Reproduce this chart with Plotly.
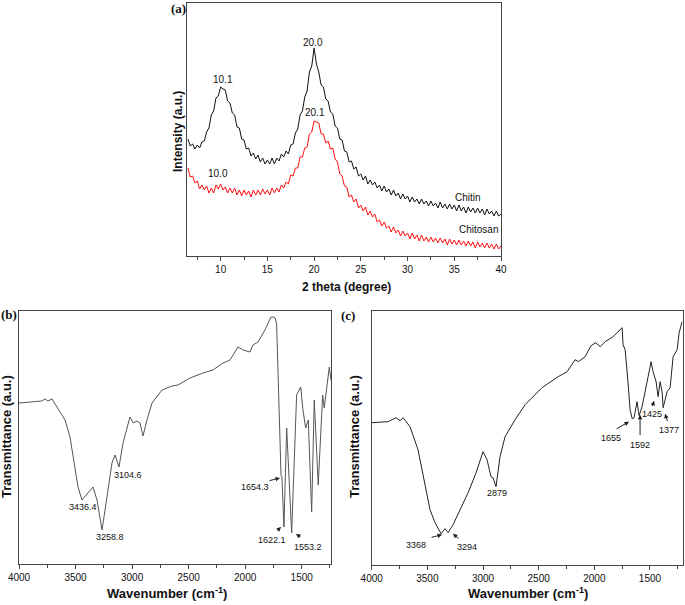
import plotly.graph_objects as go

# ---------------- (a) XRD data ----------------
theta_step = 0.25
theta_start = 6.5
chitin_int = [117,110,112,107,111,108,114,115,124,128,141,145,158,160,169,167,166,155,153,143,
              141,129,128,117,116,107,108,100,103,97,101,94,98,92,96,92,98,92,98,95,
              102,99,105,102,111,112,123,127,141,145,159,165,184,190,208,192,184,171,169,157,
              155,144,142,130,128,117,116,105,104,94,95,87,89,80,82,76,80,72,76,71,
              74,68,71,65,70,64,67,61,66,60,63,57,62,57,60,54,59,54,57,52,
              57,52,55,50,55,50,53,48,54,48,52,47,52,47,51,45,51,45,49,43,
              49,44,48,43,48,43,47,41,47,42,45,40,45,40,42]
chitosan_int = [88,79,80,73,75,67,71,66,70,63,68,63,71,67,72,66,69,63,68,63,
                68,61,66,60,66,61,65,59,66,61,66,61,67,62,66,61,68,63,68,64,
                71,68,74,72,81,80,88,88,99,99,108,109,122,124,135,134,133,122,122,113,
                115,107,108,97,94,82,80,70,69,59,61,54,57,48,51,45,49,41,45,39,
                42,34,36,30,34,28,30,24,29,23,26,20,25,20,23,17,23,17,21,15,
                21,15,19,14,19,14,18,13,18,13,17,11,17,12,16,11,16,11,15,10,
                15,10,14,8,14,9,13,8,13,8,12,7,12,7,10]
theta = [theta_start + theta_step * i for i in range(len(chitin_int))]

xrd_labels = ["10.1", "20.0", "20.1", "10.0", "Chitin", "Chitosan"]
xrd_label_x = [10.2, 19.9, 20.1, 9.7, 36.5, 37.6]
xrd_label_y = [176, 213, 143, 82, 58, 26]

# ---------------- (b) FTIR chitin ----------------
wn_b = [4000, 3850, 3800, 3770, 3745, 3708, 3593, 3549, 3505, 3478, 3443, 3400, 3346, 3310, 3266,
        3222, 3178, 3151, 3116, 3080, 3019, 2990, 2957, 2930, 2904, 2868, 2824, 2735, 2647, 2594,
        2488, 2373, 2285, 2196, 2134, 2064, 2019, 1958, 1931, 1887, 1825, 1772, 1754, 1735, 1722,
        1683, 1675, 1657, 1633, 1589, 1545, 1509, 1489, 1465, 1442, 1412, 1389, 1354, 1315, 1301,
        1280, 1256, 1241]
tr_b = [161, 162, 163, 165, 163, 165, 144, 127, 97, 77, 64, 70, 77, 64, 34,
        67, 101, 109, 97, 121, 147, 141, 143, 141, 128, 144, 161, 174, 178, 179,
        186, 191, 194, 201, 204, 217, 214, 212, 219, 222, 234, 247, 247, 246, 240,
        89, 87, 37, 136, 31, 169, 177, 154, 136, 144, 52, 164, 79, 169, 156,
        177, 197, 184]
b_labels = ["3436.4", "3258.8", "3104.6", "1654.3", "1622.1", "1553.2"]
b_label_x = [3434, 3195, 3036, 1913, 1763, 1445]
b_label_y = [57, 27, 89, 77, 24, 17]
b_arrow_tail_x = [1798, 1728, 1498]
b_arrow_tail_y = [83, 32, 26]
b_arrow_head_x = [1692, 1683, 1551]
b_arrow_head_y = [86, 37, 30]

# ---------------- (c) FTIR chitosan ----------------
wn_c = [4000, 3854, 3782, 3746, 3718, 3656, 3584, 3521, 3476, 3431, 3377, 3341, 3314, 3269, 3206,
        3134, 3062, 3000, 2964, 2928, 2910, 2883, 2847, 2802, 2712, 2622, 2470, 2325, 2245, 2173,
        2143, 2083, 2030, 1987, 1947, 1903, 1832, 1750, 1742, 1723, 1697, 1679, 1660, 1643, 1616,
        1598, 1571, 1544, 1517, 1490, 1472, 1445, 1427, 1409, 1391, 1382, 1346, 1319, 1292, 1256,
        1238, 1211]
tr_c = [142, 143, 147, 144, 147, 138, 115, 82, 55, 42, 31, 36, 32, 40, 55,
        72, 92, 113, 105, 88, 87, 78, 108, 128, 145, 160, 177, 188, 193, 205,
        203, 208, 219, 222, 218, 223, 228, 237, 220, 215, 182, 155, 146, 147, 163,
        149, 158, 175, 188, 203, 193, 183, 168, 183, 173, 157, 173, 177, 208, 215,
        232, 243]
c_labels = ["3368", "3294", "2879", "1655", "1592", "1425", "1377"]
c_label_x = [3601, 3143, 2873, 1847, 1589, 1478, 1326]
c_label_y = [20, 18, 72, 127, 120, 151, 135]
c_arrow_tail_x = [3476, 3207, 1814, 1589, 1481, 1338]
c_arrow_tail_y = [27, 25, 135, 128, 157, 142]
c_arrow_head_x = [3368, 3270, 1688, 1589, 1463, 1365]
c_arrow_head_y = [30, 31, 143, 150, 164, 151]

W, H = 685, 605
def px(x): return x / W
def py(y): return 1 - y / H

fig = go.Figure()
fig.add_trace(go.Scatter(x=theta, y=chitin_int, mode="lines", line=dict(color="#111111", width=1),
                         xaxis="x", yaxis="y", showlegend=False))
fig.add_trace(go.Scatter(x=theta, y=chitosan_int, mode="lines", line=dict(color="#ff1010", width=1),
                         xaxis="x", yaxis="y", showlegend=False))
fig.add_trace(go.Scatter(x=wn_b, y=tr_b, mode="lines", line=dict(color="#555555", width=1),
                         xaxis="x2", yaxis="y2", showlegend=False))
fig.add_trace(go.Scatter(x=wn_c, y=tr_c, mode="lines", line=dict(color="#222222", width=1),
                         xaxis="x3", yaxis="y3", showlegend=False))

tickfont = dict(family="Liberation Sans, Arial", size=10, color="#111111")
common_x = dict(showline=True, mirror=True, linecolor="#444444", linewidth=1, ticks="outside",
                ticklen=4, tickcolor="#444444", showgrid=False, zeroline=False, tickfont=tickfont,
                automargin=False)
common_y = dict(showline=True, mirror=True, linecolor="#444444", linewidth=1, ticks="",
                showticklabels=False, showgrid=False, zeroline=False, automargin=False)

fig.update_layout(
    width=W, height=H, margin=dict(l=0, r=0, t=0, b=0, pad=0, autoexpand=False),
    paper_bgcolor="white", plot_bgcolor="white",
    xaxis=dict(domain=[px(187), px(501)], range=[6.4, 40], tickmode="array",
               tickvals=[10, 15, 20, 25, 30, 35, 40], anchor="y",
               minor=dict(tickvals=[7.5, 12.5, 17.5, 22.5, 27.5, 32.5, 37.5], ticklen=3,
                          ticks="outside", tickcolor="#444444"), **common_x),
    yaxis=dict(domain=[py(256), py(3)], range=[0, 253], anchor="x", **common_y),
    xaxis2=dict(domain=[px(19), px(331)], range=[4000, 1241], tickmode="array",
                tickvals=[4000, 3500, 3000, 2500, 2000, 1500], anchor="y2",
                minor=dict(tickvals=[3750, 3250, 2750, 2250, 1750, 1250], ticklen=3,
                           ticks="outside", tickcolor="#444444"), **common_x),
    yaxis2=dict(domain=[py(564), py(311)], range=[0, 253], anchor="x2", **common_y),
    xaxis3=dict(domain=[px(371.7), px(682.7)], range=[4000, 1206], tickmode="array",
                tickvals=[4000, 3500, 3000, 2500, 2000, 1500], anchor="y3",
                minor=dict(tickvals=[3750, 3250, 2750, 2250, 1750, 1250], ticklen=3,
                           ticks="outside", tickcolor="#444444"), **common_x),
    yaxis3=dict(domain=[py(564.7), py(310.7)], range=[0, 254], anchor="x3", **common_y),
)

ann = []
lab_font = dict(family="Liberation Sans, Arial", size=10, color="#111111")
for t, x, y in zip(xrd_labels, xrd_label_x, xrd_label_y):
    ann.append(dict(text=t, x=x, y=y, xref="x", yref="y", showarrow=False, font=lab_font))
small_font = dict(family="Liberation Sans, Arial", size=9, color="#111111")
for t, x, y in zip(b_labels, b_label_x, b_label_y):
    ann.append(dict(text=t, x=x, y=y, xref="x2", yref="y2", showarrow=False, font=small_font))
for tx, ty, hx, hy in zip(b_arrow_tail_x, b_arrow_tail_y, b_arrow_head_x, b_arrow_head_y):
    ann.append(dict(text="", x=hx, y=hy, ax=tx, ay=ty, xref="x2", yref="y2", axref="x2", ayref="y2",
                    showarrow=True, arrowhead=2, arrowsize=0.9, arrowwidth=1, arrowcolor="#222222"))
for t, x, y in zip(c_labels, c_label_x, c_label_y):
    ann.append(dict(text=t, x=x, y=y, xref="x3", yref="y3", showarrow=False, font=small_font))
for tx, ty, hx, hy in zip(c_arrow_tail_x, c_arrow_tail_y, c_arrow_head_x, c_arrow_head_y):
    ann.append(dict(text="", x=hx, y=hy, ax=tx, ay=ty, xref="x3", yref="y3", axref="x3", ayref="y3",
                    showarrow=True, arrowhead=2, arrowsize=0.9, arrowwidth=1, arrowcolor="#222222"))

title_font = dict(family="Liberation Sans, Arial", size=13, color="#111111")
panel_font = dict(family="Liberation Serif, Times New Roman", size=13, color="#111111")
def paper_text(t, x, y, font, angle=0):
    ann.append(dict(text=t, x=px(x), y=py(y), xref="paper", yref="paper", showarrow=False,
                    font=font, textangle=angle, xanchor="center", yanchor="middle"))

paper_text("<b>(a)</b>", 178, 8, panel_font)
paper_text("<b>(b)</b>", 9, 314, panel_font)
paper_text("<b>(c)</b>", 348, 315, panel_font)
paper_text("<b>2 theta (degree)</b>", 346, 287, dict(title_font, size=12))
paper_text("<b>Intensity (a.u.)</b>", 178, 132, dict(title_font, size=12), -90)
paper_text("<b>Wavenumber (cm<sup>-1</sup>)</b>", 167, 593, title_font)
paper_text("<b>Wavenumber (cm<sup>-1</sup>)</b>", 528, 593, title_font)
paper_text("<b>Transmittance (a.u.)</b>", 7, 437, title_font, -90)
paper_text("<b>Transmittance (a.u.)</b>", 355, 437, title_font, -90)

fig.update_layout(annotations=ann)
fig.update_xaxes(tickprefix="<b>", ticksuffix="</b>")
fig.write_html("out.html", config={"displayModeBar": False},
               post_script="document.body.style.margin='0';document.body.style.padding='0';"
                           "document.body.style.overflow='hidden';")
